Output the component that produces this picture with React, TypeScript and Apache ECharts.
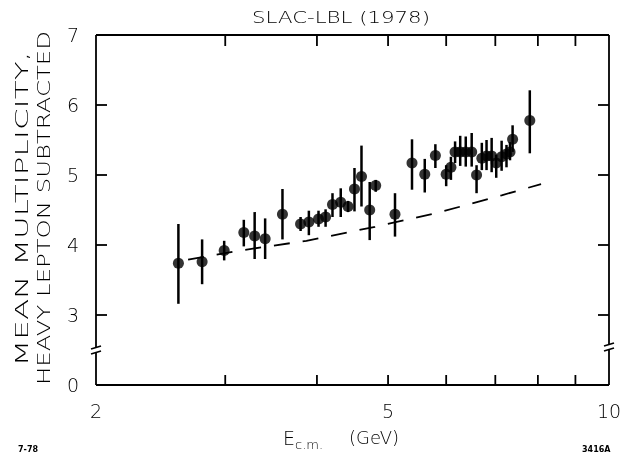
import React, { useEffect, useRef } from 'react';
import * as echarts from 'echarts';

// Measured points: centre-of-mass energy (GeV), mean multiplicity and error-bar ends
const energy = [2.59, 2.79, 2.99, 3.18, 3.29, 3.40, 3.59, 3.80, 3.90, 4.02, 4.11, 4.20, 4.31, 4.41, 4.50, 4.60, 4.72, 4.81, 5.11, 5.39, 5.61, 5.80, 6.00, 6.09, 6.17, 6.27, 6.38, 6.50, 6.60, 6.71, 6.81, 6.92, 7.02, 7.14, 7.25, 7.33, 7.39, 7.80];
const multiplicity = [3.74, 3.76, 3.92, 4.18, 4.13, 4.09, 4.44, 4.30, 4.33, 4.37, 4.40, 4.58, 4.61, 4.55, 4.80, 4.98, 4.50, 4.85, 4.44, 5.17, 5.01, 5.28, 5.01, 5.11, 5.33, 5.33, 5.33, 5.33, 5.00, 5.24, 5.27, 5.27, 5.17, 5.26, 5.30, 5.33, 5.51, 5.78];
const errLow = [3.16, 3.44, 3.78, 3.98, 3.80, 3.80, 4.08, 4.20, 4.14, 4.26, 4.26, 4.40, 4.40, 4.47, 4.48, 4.55, 4.07, 4.76, 4.12, 4.79, 4.75, 5.10, 4.84, 4.93, 5.17, 5.13, 5.12, 5.12, 4.74, 5.07, 5.07, 5.04, 4.96, 5.06, 5.11, 5.21, 5.33, 5.31];
const errHigh = [4.30, 4.08, 4.06, 4.36, 4.47, 4.38, 4.80, 4.40, 4.49, 4.49, 4.51, 4.74, 4.81, 4.63, 5.10, 5.42, 4.90, 4.93, 4.74, 5.51, 5.23, 5.44, 5.14, 5.26, 5.48, 5.56, 5.55, 5.60, 5.14, 5.46, 5.50, 5.53, 5.29, 5.49, 5.43, 5.47, 5.71, 6.21];

// Dashed reference curve
const curveEnergy = [2.67, 3.14, 3.87, 4.80, 5.89, 7.14, 8.08];
const curveMult = [3.79, 3.92, 4.06, 4.26, 4.47, 4.71, 4.87];

// Axes
const xMin = 2;
const xMax = 10;
const yMin = 2;
const yMax = 7;
const xTickValues = [3, 4, 5, 6, 7, 8, 9];
const xLabelValues = [2, 5, 10];
const yTickValues = [3, 4, 5, 6];
const yTickLabels: Record<number, string> = { 2: '0', 3: '3', 4: '4', 5: '5', 6: '6', 7: '7' };
const breakValue = 2.5;

const titleText = 'SLAC-LBL (1978)';
const yNameLine1 = 'MEAN MULTIPLICITY,';
const yNameLine2 = 'HEAVY LEPTON SUBTRACTED';

const FONT = 'DejaVu Sans';
const WEIGHT = 200;

function measure(text: string, size: number, weight: number | string = WEIGHT) {
  const ctx = document.createElement('canvas').getContext('2d');
  if (!ctx) return text.length * size * 0.65;
  ctx.font = `${weight} ${size}px "${FONT}"`;
  return ctx.measureText(text).width;
}

export default function App() {
  const ref = useRef<HTMLDivElement>(null);

  useEffect(() => {
    if (!ref.current) return;
    const chart = echarts.init(ref.current, undefined, { renderer: 'svg' });

    const titleSize = 16;
    const titleScale = 178 / measure(titleText, titleSize);
    const ySize = 18;
    const y1Scale = 315 / measure(yNameLine1, ySize);
    const y2Scale = 354 / measure(yNameLine2, ySize);

    // frame, ticks on all four sides and axis-break marks: [x, y, kind]
    const frameData: number[][] = [[xMin, yMin, 6]];
    xTickValues.forEach((v) => {
      frameData.push([v, yMin, 0]);
      frameData.push([v, yMax, 1]);
    });
    yTickValues.forEach((v) => {
      frameData.push([xMin, v, 2]);
      frameData.push([xMax, v, 3]);
    });
    frameData.push([xMin, breakValue, 4]);
    frameData.push([xMax, breakValue, 5]);

    const textStyle = (text: string, size: number, extra: any = {}) => ({
      text,
      fill: '#000',
      fontSize: size,
      fontFamily: FONT,
      fontWeight: WEIGHT,
      align: 'center',
      verticalAlign: 'middle',
      textAlign: 'center',
      textVerticalAlign: 'middle',
      ...extra,
    });

    const ln = (x1: number, y1: number, x2: number, y2: number, w = 1.8) => ({
      type: 'line',
      shape: { x1, y1, x2, y2 },
      style: { stroke: '#000', lineWidth: w },
    });

    const option: any = {
      animation: false,
      grid: { left: 96, right: 12, top: 35, bottom: 76 },
      xAxis: {
        type: 'log',
        logBase: 10,
        min: xMin,
        max: xMax,
        axisLine: { show: false },
        splitLine: { show: false },
        minorTick: { show: false },
        minorSplitLine: { show: false },
        axisTick: { show: false },
        axisLabel: { show: false },
      },
      yAxis: {
        type: 'value',
        min: yMin,
        max: yMax,
        interval: 1,
        axisLine: { show: false },
        splitLine: { show: false },
        axisTick: { show: false },
        axisLabel: {
          show: true,
          margin: 17,
          color: '#000',
          fontSize: 19,
          fontFamily: FONT,
          fontWeight: WEIGHT,
          formatter: (v: number) => yTickLabels[Math.round(v)] ?? '',
        },
      },
      series: [
        {
          type: 'custom',
          data: xLabelValues.map((v) => [v, yMin]),
          encode: { x: 0, y: 1 },
          silent: true,
          renderItem: (params: any, api: any) => {
            const v = api.value(0);
            const p = api.coord([v, api.value(1)]);
            return { type: 'text', x: p[0], y: p[1] + 26, style: textStyle(String(v), 19) };
          },
        },
        {
          type: 'line',
          data: curveEnergy.map((e, i) => [e, curveMult[i]]),
          symbol: 'none',
          silent: true,
          lineStyle: { color: '#000', width: 1.8, type: [16, 13] },
        },
        {
          type: 'custom',
          data: energy.map((e, i) => [e, errLow[i], errHigh[i]]),
          encode: { x: 0, y: [1, 2] },
          renderItem: (params: any, api: any) => {
            const x = api.value(0);
            const p1 = api.coord([x, api.value(1)]);
            const p2 = api.coord([x, api.value(2)]);
            return {
              type: 'line',
              shape: { x1: p1[0], y1: p1[1], x2: p2[0], y2: p2[1] },
              style: { stroke: '#000', lineWidth: 2.5 },
            };
          },
        },
        {
          type: 'scatter',
          data: energy.map((e, i) => [e, multiplicity[i]]),
          symbol: 'circle',
          symbolSize: 11,
          itemStyle: { color: '#000' },
        },
        {
          type: 'custom',
          data: frameData,
          encode: { x: 0, y: 1 },
          silent: true,
          renderItem: (params: any, api: any) => {
            const k = api.value(2);
            const p = api.coord([api.value(0), api.value(1)]);
            const x = p[0];
            const y = p[1];
            if (k === 6) {
              const q = api.coord([xMax, yMax]);
              return {
                type: 'group',
                children: [ln(x, y, q[0], y), ln(x, q[1], q[0], q[1]), ln(x, y, x, q[1]), ln(q[0], y, q[0], q[1])],
              };
            }
            if (k === 0) return ln(x, y, x, y - 10);
            if (k === 1) return ln(x, y, x, y + 11);
            if (k === 2) return ln(x, y, x + 11, y);
            if (k === 3) return ln(x, y, x - 11, y);
            const yy = k === 5 ? y - 3 : y;
            return {
              type: 'group',
              children: [
                { type: 'rect', shape: { x: x - 4, y: yy - 3, width: 8, height: 6 }, style: { fill: '#fff' } },
                ln(x - 5, yy - 1, x + 5, yy - 4, 1.6),
                ln(x - 5, yy + 4, x + 5, yy + 1, 1.6),
              ],
            };
          },
        },
        {
          // title, axis names and corner notes
          type: 'custom',
          data: [[xMin, yMin]],
          encode: { x: 0, y: 1 },
          silent: true,
          renderItem: () => ({
            type: 'group',
            children: [
              { type: 'text', x: 341, y: 17, scaleX: titleScale, style: textStyle(titleText, titleSize) },
              { type: 'text', x: 22, y: 209, rotation: Math.PI / 2, scaleX: y1Scale, style: textStyle(yNameLine1, ySize) },
              { type: 'text', x: 44, y: 208, rotation: Math.PI / 2, scaleX: y2Scale, style: textStyle(yNameLine2, ySize) },
              { type: 'text', x: 283, y: 438, style: textStyle('E', 19, { align: 'left', textAlign: 'left' }) },
              { type: 'text', x: 295, y: 444, style: textStyle('c.m.', 13, { align: 'left', textAlign: 'left' }) },
              { type: 'text', x: 349, y: 437, style: textStyle('(GeV)', 18, { align: 'left', textAlign: 'left' }) },
              { type: 'text', x: 18, y: 449, style: textStyle('7-78', 8, { align: 'left', textAlign: 'left', fontWeight: 'bold' }) },
              { type: 'text', x: 582, y: 449, style: textStyle('3416A', 8, { align: 'left', textAlign: 'left', fontWeight: 'bold' }) },
            ],
          }),
        },
      ],
    };

    chart.setOption(option);

    return () => chart.dispose();
  }, []);

  return <div ref={ref} style={{ position: 'fixed', left: 0, top: 0, width: 621, height: 461 }} />;
}
